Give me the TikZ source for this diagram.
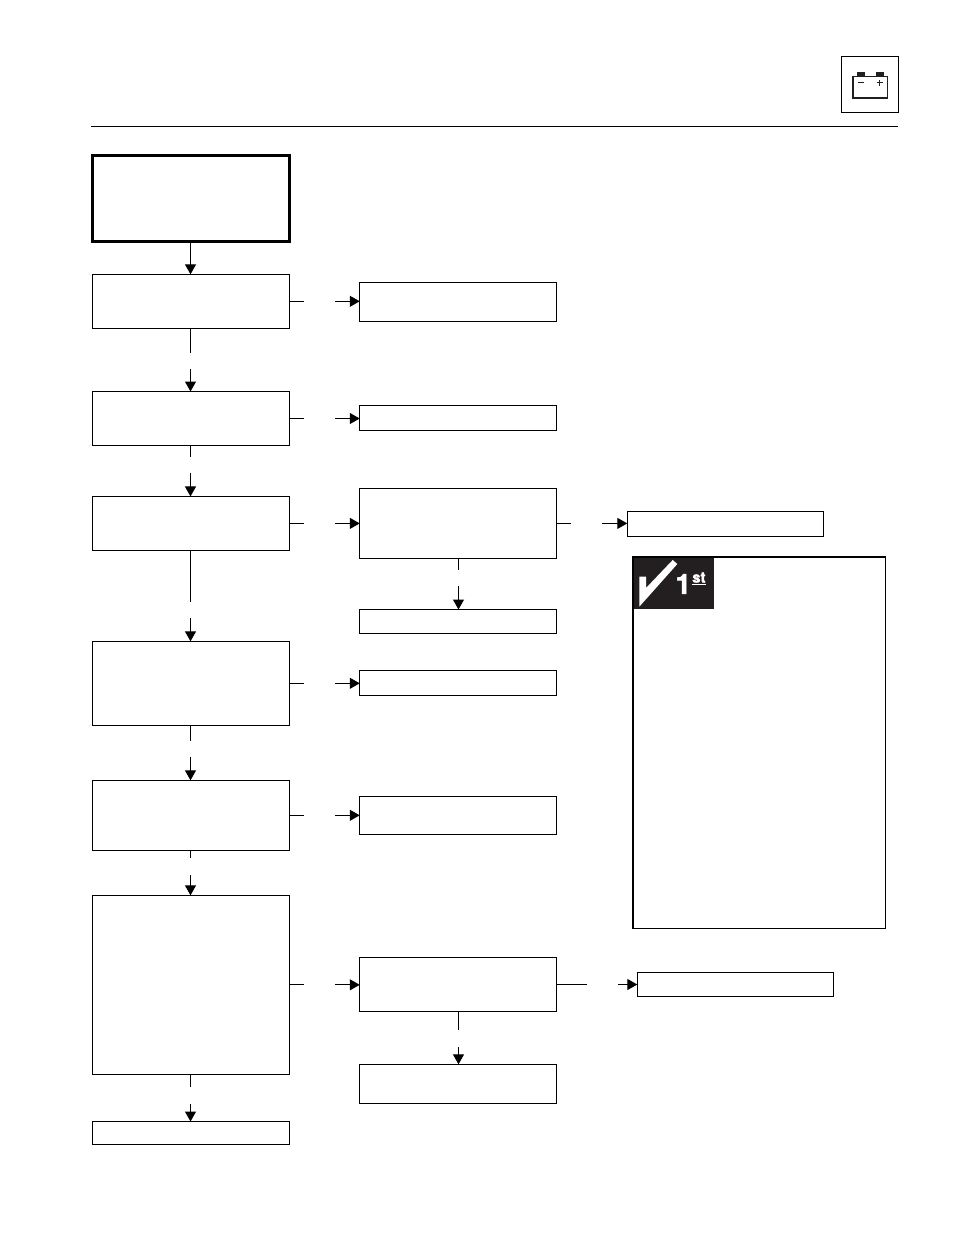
\documentclass[tikz,border=0pt]{standalone}
\usepackage{fontspec}
\setmainfont{Liberation Sans}
\newfontfamily\badgefont{TeX Gyre Heros}[BoldFeatures={FakeBold=2}]
\usetikzlibrary{arrows.meta}
\definecolor{badgeblack}{HTML}{231F20}
\tikzset{
  flowbox/.style={draw=black,line width=1.15pt,inner sep=0pt,outer sep=0pt,fill=white},
  leftbox/.style={flowbox,minimum width=197pt},
  rightbox/.style={flowbox,minimum width=196.5pt},
  flowline/.style={line width=1.15pt},
  flowarrow/.style={line width=1.15pt,-{Triangle[length=10pt,width=11pt]}}
}
\begin{document}
\begin{tikzpicture}[x=1pt,y=-1pt]
  \useasboundingbox (0,0) rectangle (954,1235);

  % header
  \node[flowbox,minimum width=57.5pt,minimum height=56pt] (iconbox) at (870,84.2) {};
  \coordinate (ruleleft) at (91,126.4);
  \coordinate (ruleright) at (897.7,126.4);
  \draw[flowline] (ruleleft) -- (ruleright);

  % battery
  \fill[badgeblack] (857,72) rectangle (865,76.5);
  \fill[badgeblack] (876,72) rectangle (884,76.5);
  \draw[line width=1pt,badgeblack] (852.5,76.3) -- (887.4,76.3) -- (887.4,98);
  \draw[line width=2.2pt,badgeblack] (853.1,76.3) -- (853.1,97.6) -- (887.9,97.6);
  \draw[line width=1.3pt,badgeblack] (858,82.5) -- (864,82.5);
  \draw[line width=1.3pt,badgeblack] (876.8,82.5) -- (882.8,82.5);
  \draw[line width=1.3pt,badgeblack] (879.8,79.5) -- (879.8,85.5);

  % left column
  \node[flowbox,line width=3pt,minimum width=197pt,minimum height=86pt] (start) at (191,198.4) {};
  \node[leftbox,minimum height=54pt] (stepA) at (191,301.3) {};
  \node[leftbox,minimum height=54pt] (stepB) at (191,418.5) {};
  \node[leftbox,minimum height=54pt] (stepC) at (191,523.4) {};
  \node[leftbox,minimum height=84pt] (stepD) at (191,683.3) {};
  \node[leftbox,minimum height=70pt] (stepE) at (191,815.3) {};
  \node[leftbox,minimum height=179pt] (stepF) at (191,984.8) {};
  \node[leftbox,minimum height=23pt] (stepG) at (191,1133) {};

  % right column
  \node[rightbox,minimum height=39pt] (fixA) at (458,301.8) {};
  \node[rightbox,minimum height=25pt] (fixB) at (458,418) {};
  \node[rightbox,minimum height=70pt] (fixC) at (458,523.4) {};
  \node[rightbox,minimum height=24pt] (fixCb) at (458,621.5) {};
  \node[rightbox,minimum height=25pt] (fixD) at (458,683) {};
  \node[rightbox,minimum height=38pt] (fixE) at (458,815.5) {};
  \node[rightbox,minimum height=54pt] (fixF) at (458,984.5) {};
  \node[rightbox,minimum height=39pt] (fixFb) at (458,1083.8) {};

  % far right
  \node[flowbox,minimum width=196pt,minimum height=24.8pt] (endC) at (725.3,523.7) {};
  \node[flowbox,minimum width=196pt,minimum height=24.3pt] (endF) at (735.3,984.3) {};

  % note with badge
  \node[flowbox,minimum width=252.7pt,minimum height=372pt] (note) at (759,742.7) {};
  \draw[line width=2pt] (note.south west) -- (note.north west) -- (note.north east);
  \node[fill=badgeblack,inner sep=0pt,outer sep=0pt,minimum width=80pt,minimum height=51pt] (badge) at (674,583.5) {};
  \fill[white] (639.3,576.7) -- (646,576.7) -- (646,588) -- (672.7,560) -- (677.3,564) -- (639.3,606.7) -- cycle;
  \node[white,inner sep=0pt,font=\fontsize{28}{28}\badgefont\bfseries] (badgeone) at (683.2,584) {1};
  \node[white,inner sep=0pt,font=\fontsize{15}{15}\badgefont\bfseries] (badgest) at (698.9,577.6) {st};
  \draw[white,line width=1pt] ([yshift=-2pt]badgest.south west) -- ([yshift=-2pt]badgest.south east);

  % connectors down: from/to/length out/length in/shift
  \draw[flowarrow] ([xshift=-0.5pt]start.south) -- ([xshift=-0.5pt]stepA.north);
  \foreach \a/\b/\o/\i/\s in {stepA/stepB/24.5/22.5/-0.5, stepB/stepC/11.5/23.5/-0.5, stepC/stepD/51.3/23.3/-0.5,
      stepD/stepE/15.4/23.3/-0.5, stepE/stepF/7.4/20.3/-0.5, stepF/stepG/12.5/17.5/-0.5,
      fixC/fixCb/12/23.3/0.5, fixF/fixFb/18.7/17.3/0.5} {
    \coordinate (\a-down) at ([xshift=\s pt,yshift=-\o pt]\a.south);
    \coordinate (\b-top) at ([xshift=\s pt,yshift=\i pt]\b.north);
    \draw[flowline] ([xshift=\s pt]\a.south) -- (\a-down);
    \draw[flowarrow] (\b-top) -- ([xshift=\s pt]\b.north);
  }

  % connectors across
  \foreach \a/\b/\o/\i in {stepA/fixA/14/24.3, stepB/fixB/14/24.3, stepC/fixC/14/24.3, stepD/fixD/14/24.3,
      stepE/fixE/14/24.3, stepF/fixF/14/24.3, fixC/endC/15/25.3, fixF/endF/30.5/19.3} {
    \coordinate (\a-out) at ([xshift=\o pt]\a.east);
    \coordinate (\b-in) at ([xshift=-\i pt]\a.east -| \b.west);
    \draw[flowline] (\a.east) -- (\a-out);
    \draw[flowarrow] (\b-in) -- (\a.east -| \b.west);
  }
\end{tikzpicture}
\end{document}
